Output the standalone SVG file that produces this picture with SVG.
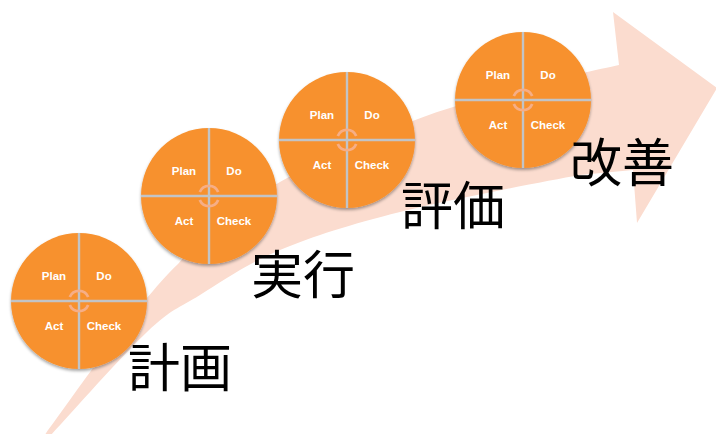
<svg xmlns="http://www.w3.org/2000/svg" width="716" height="434" viewBox="0 0 716 434">
<defs>
  <filter id="sh" x="-20%" y="-20%" width="140%" height="150%">
    <feDropShadow dx="0" dy="2" stdDeviation="1.8" flood-color="#000" flood-opacity="0.35"/>
  </filter>
  <g id="pdca">
    <circle cx="0" cy="0" r="68" fill="#F7912D" filter="url(#sh)"/>
    <line x1="-68" y1="0" x2="68" y2="0" class="div"/>
    <line x1="0" y1="-68" x2="0" y2="68" class="div"/>
    <path d="M -9.2 -4 A 10 10 0 0 1 9.2 -4" class="sym"/>
    <path d="M -9.2 4 A 10 10 0 0 0 9.2 4" class="sym"/>
    <text x="-25" y="-21" class="q">Plan</text>
    <text x="25" y="-21" class="q">Do</text>
    <text x="-25" y="29" class="q">Act</text>
    <text x="25" y="29" class="q">Check</text>
  </g>
</defs>
<style>
  .div { stroke: #C2C4C6; stroke-width: 2.4; }
  .sym { fill: none; stroke: #F6AE86; stroke-width: 2.8; }
  .q { font-family: "Liberation Sans", Arial, sans-serif; font-weight: bold; font-size: 11.5px; fill: #FFFFFF; text-anchor: middle; }
  .jp { font-family: "Noto Sans CJK JP", "Noto Sans", sans-serif; font-size: 52px; fill: #000000; }
</style>
<rect width="716" height="434" fill="#FFFFFF"/>
<g id="connectors">
  <path fill="#FBDCCF" d="M 44 436 C 65.8 407 135.7 304.3 178 264 C 214.3 222 240.8 205.3 280 182 C 319.2 158.7 370 137.7 410 122 C 450 106.3 485.2 97.5 520 88 C 554.8 78.5 602.5 68.8 619 65 L 613 12 L 717 88 L 637 223 L 633 170 L 580 175 C 541.2 182 450 199.5 400 212 C 350 224.5 313.3 236.2 280 250 C 246.7 263.8 222.2 281.3 200 295 C 177.8 308.7 172 308.5 147 332 C 122 355.5 66.2 418.7 50 436 Z"/>
</g>
<g id="plan">
  <use href="#pdca" x="79" y="301"/>
  <text x="128" y="387" class="jp">計画</text>
</g>
<g id="do">
  <use href="#pdca" x="209" y="196"/>
  <text x="251" y="294" class="jp">実行</text>
</g>
<g id="check">
  <use href="#pdca" x="347" y="140"/>
  <text x="401" y="225" class="jp">評価</text>
</g>
<g id="act">
  <use href="#pdca" x="523" y="100"/>
  <text x="570" y="182" class="jp">改善</text>
</g>
</svg>
